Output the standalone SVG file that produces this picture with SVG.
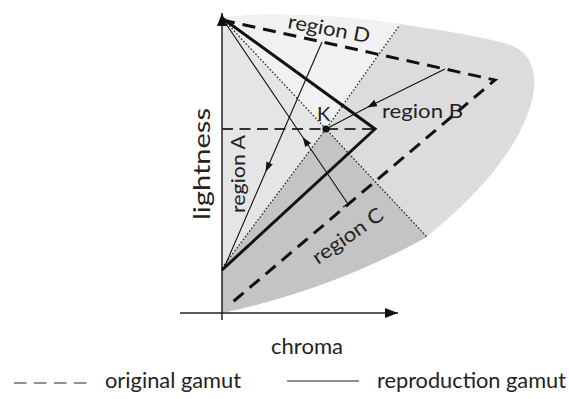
<svg xmlns="http://www.w3.org/2000/svg" width="569" height="399" viewBox="0 0 569 399">
<style>
text{font-family:"Lato","Open Sans","Liberation Sans",sans-serif;fill:#222}
.orig{fill:none;stroke:#111;stroke-width:3;stroke-dasharray:13 8}
.repro{fill:none;stroke:#111;stroke-width:3;stroke-linejoin:miter}
.dot{fill:none;stroke:#222;stroke-width:1.3;stroke-dasharray:1.5 2}
.thin{fill:none;stroke:#111;stroke-width:1.1}
.axis{fill:none;stroke:#222;stroke-width:1.5}
</style>
<defs>
<marker id="arr" markerUnits="userSpaceOnUse" markerWidth="11" markerHeight="8" refX="10" refY="3.5" orient="auto"><path d="M0,0 L10,3.5 L0,7 z" fill="#111"/></marker>
<marker id="axarr" markerUnits="userSpaceOnUse" markerWidth="14" markerHeight="11" refX="13" refY="5" orient="auto"><path d="M0,0 L13,5 L0,10 z" fill="#111"/></marker>
<clipPath id="gamut"><path id="gp" d="M222,18 C260,12 330,14 400,24 C460,33 500,40 515,47 C535,57 537,80 532,100 C522,140 490,185 430,234 L427,237 Q330,290 222,313 Z"/></clipPath>
</defs>
<g id="regions">
<path d="M222,18 C260,12 330,14 400,24 C460,33 500,40 515,47 C535,57 537,80 532,100 C522,140 490,185 430,234 L427,237 Q330,290 222,313 Z" fill="#dcdcdc"/>
<g clip-path="url(#gamut)">
<polygon id="regionD-area" points="222,18 326,129 400,25 400,0 222,0" fill="#f1f1f1"/>
<polygon id="regionA-area" points="222,18 326,129 222,268" fill="#e5e5e5"/>
<polygon id="regionC-area" points="222,268 326,129 430,240 430,330 222,330" fill="#c4c4c4"/>
</g>
</g>
<g id="axes">
<line class="axis" x1="222" y1="320" x2="222" y2="13" marker-end="url(#axarr)"/>
<line class="axis" x1="180" y1="313" x2="398" y2="313" marker-end="url(#axarr)"/>
</g>
<g id="connectors">
<line class="dot" x1="222" y1="18" x2="427" y2="237"/>
<polyline class="dot" points="222,268 326,129 399,26"/>
<line x1="222" y1="129" x2="374" y2="129" stroke="#333" stroke-width="2" fill="none" stroke-dasharray="11 6.5"/>
<polyline class="thin" points="445,69 367,107.5 326,129" marker-mid="url(#arr)"/>
<polyline class="thin" points="322,42 265.6,172 224,268" marker-mid="url(#arr)"/>
<polyline class="thin" points="348,204 302.6,137 222,18" marker-mid="url(#arr)"/>
<line class="thin" x1="343" y1="207" x2="353" y2="201"/>
</g>
<g id="original-gamut">
<polyline class="orig" points="222,20 495,80 228,306"/>
</g>
<g id="reproduction-gamut">
<polyline class="repro" points="222,18 375,129 222,270"/>
</g>
<g id="K">
<circle cx="326" cy="129" r="3.6" fill="#111"/>
<text x="317" y="121" font-size="20">K</text>
</g>
<g id="labels">
<text font-size="23" textLength="112" lengthAdjust="spacingAndGlyphs" transform="translate(210,220) rotate(-90)">lightness</text>
<text font-size="20" textLength="78" lengthAdjust="spacingAndGlyphs" transform="translate(245,213) rotate(-90)">region A</text>
<text font-size="20" textLength="83" lengthAdjust="spacingAndGlyphs" transform="translate(287,28) rotate(10.5)">region D</text>
<text x="382" y="118" font-size="20" textLength="81" lengthAdjust="spacingAndGlyphs">region B</text>
<text font-size="20" textLength="82" lengthAdjust="spacingAndGlyphs" transform="translate(318,265) rotate(-35)">region C</text>
<text x="271" y="354" font-size="22" textLength="72" lengthAdjust="spacingAndGlyphs">chroma</text>
</g>
<g id="legend">
<line x1="14" y1="383" x2="89" y2="383" stroke="#222" stroke-width="1.2" stroke-dasharray="12.5 7.5"/>
<text x="105" y="388" font-size="21" textLength="136" lengthAdjust="spacingAndGlyphs">original gamut</text>
<line x1="287" y1="381" x2="359" y2="381" stroke="#222" stroke-width="1.2"/>
<text x="377" y="388" font-size="21" textLength="189" lengthAdjust="spacingAndGlyphs">reproduction gamut</text>
</g>
</svg>
